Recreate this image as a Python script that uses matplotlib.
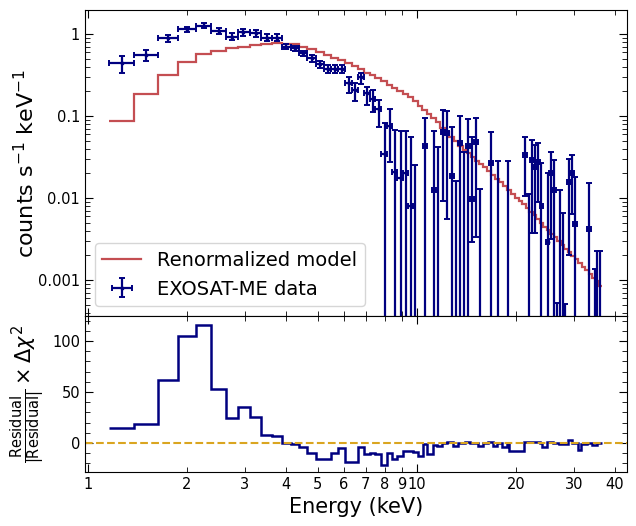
import numpy as np
import matplotlib
matplotlib.use("Agg")
import matplotlib.pyplot as plt
from matplotlib.ticker import FixedLocator, FixedFormatter, MultipleLocator, LogLocator, NullFormatter

# ---- model (renormalized), step per energy bin ----
model_edges = [1.158, 1.380, 1.632, 1.878, 2.130, 2.365, 2.627, 2.857, 3.108, 3.357,
               3.625, 3.888, 4.140, 4.377, 4.631, 4.932, 5.216, 5.479, 5.754, 6.042,
               6.345, 6.618, 6.901, 7.196, 7.452, 7.772, 8.105, 8.395, 8.694, 9.066,
               9.389, 9.723, 10.07, 10.39, 10.72, 11.07, 11.42, 11.79, 12.17, 12.56,
               12.96, 13.37, 13.80, 14.19, 14.59, 15.01, 15.43, 15.87, 16.32, 16.79,
               17.26, 17.75, 18.26, 18.77, 19.31, 19.86, 20.42, 20.93, 21.45, 21.98,
               22.52, 23.08, 23.65, 24.24, 24.84, 25.46, 26.09, 26.73, 27.40, 28.07,
               28.77, 29.49, 30.22, 30.97, 31.73, 32.52, 33.33, 34.15, 35.00, 35.74,
               36.50]
model_flux = [0.087, 0.187, 0.316, 0.459, 0.570, 0.626, 0.669, 0.700, 0.734, 0.762,
              0.783, 0.766, 0.745, 0.704, 0.656, 0.603, 0.554, 0.517, 0.482, 0.443,
              0.407, 0.374, 0.339, 0.312, 0.287, 0.264, 0.239, 0.220, 0.202, 0.186,
              0.171, 0.152, 0.134, 0.120, 0.106, 0.0946, 0.0834, 0.0724, 0.0630, 0.0555,
              0.0495, 0.0437, 0.0390, 0.0354, 0.0316, 0.0286, 0.0260, 0.0236, 0.0213, 0.0191,
              0.0173, 0.0157, 0.0140, 0.0127, 0.01135, 0.01014, 0.00918, 0.00834, 0.00755, 0.00684,
              0.00621, 0.00555, 0.00502, 0.00449, 0.00407, 0.00369, 0.00334, 0.00299, 0.00267, 0.00242,
              0.00219, 0.00199, 0.00180, 0.00161, 0.00146, 0.00132, 0.00118, 0.00106, 0.00096, 0.000857]

# ---- EXOSAT-ME data (nan = below plotted range) ----
e_mid = [1.268, 1.501, 1.754, 2.004, 2.252, 2.507, 2.746, 2.965, 3.241, 3.493,
         3.747, 3.998, 4.257, 4.519, 4.796, 5.089, 5.364, 5.634, 5.903, 6.213,
         6.503, 6.772, 7.063, 7.366, 7.665, 7.993, 8.276, 8.573, 8.922, 9.241,
         9.589, 9.895, 10.58, 11.29, 11.61, 11.99, 12.36, 12.80, 13.14, 13.51,
         13.92, 14.29, 14.70, 15.11, 15.54, 16.79, 17.66, 18.95, 21.37, 21.90,
         22.41, 22.84, 23.37, 23.93, 24.96, 25.49, 26.15, 26.59, 27.21, 27.85,
         28.31, 29.04, 29.65, 30.22, 33.33, 34.75, 35.41, 35.99]
e_lo = [1.158, 1.380, 1.632, 1.878, 2.130, 2.365, 2.627, 2.857, 3.108, 3.357,
        3.625, 3.888, 4.140, 4.377, 4.631, 4.932, 5.216, 5.479, 5.754, 6.042,
        6.345, 6.618, 6.901, 7.196, 7.452, 7.772, 8.105, 8.395, 8.694, 9.066,
        9.389, 9.723, 10.42, 11.12, 11.44, 11.82, 12.19, 12.62, 12.96, 13.32,
        13.73, 14.09, 14.50, 14.90, 15.32, 16.55, 17.41, 18.68, 21.07, 21.60,
        22.10, 22.53, 23.05, 23.60, 24.62, 25.14, 25.79, 26.23, 26.84, 27.47,
        27.92, 28.64, 29.24, 29.80, 32.87, 34.27, 34.92, 35.49]
e_hi = [1.380, 1.632, 1.878, 2.130, 2.365, 2.627, 2.857, 3.108, 3.357, 3.625,
        3.888, 4.140, 4.377, 4.631, 4.932, 5.216, 5.479, 5.754, 6.042, 6.345,
        6.618, 6.901, 7.196, 7.452, 7.772, 8.105, 8.395, 8.694, 9.066, 9.389,
        9.723, 10.07, 10.74, 11.46, 11.78, 12.16, 12.53, 12.98, 13.32, 13.70,
        14.11, 14.49, 14.90, 15.32, 15.76, 17.03, 17.91, 19.22, 21.67, 22.20,
        22.72, 23.15, 23.69, 24.26, 25.30, 25.84, 26.51, 26.95, 27.58, 28.23,
        28.70, 29.44, 30.06, 30.64, 33.79, 35.23, 35.90, 36.49]
nan = np.nan
flux = [0.439, 0.550, 0.886, 1.141, 1.262, 1.088, 0.927, 1.049, 1.020, 0.901,
        0.901, 0.700, 0.669, 0.582, 0.505, 0.427, 0.374, 0.374, 0.374, 0.251,
        0.209, 0.295, 0.189, 0.160, 0.121, 0.0341, 0.0762, 0.0206, 0.0174, 0.0200,
        0.00805, nan, 0.0431, 0.01253, nan, 0.0638, 0.0615, 0.01854, nan, 0.0472,
        nan, 0.0431, 0.00972, 0.0478, nan, 0.02694, nan, nan, 0.0335, nan,
        0.0291, 0.0241, 0.0277, 0.00799, 0.00288, 0.0200, 0.01253, nan, nan, nan,
        nan, 0.0158, 0.0200, 0.00478, 0.00415, nan, nan, nan]
flux_low = [0.337, 0.465, 0.806, 1.049, 1.174, 0.992, 0.845, 0.953, 0.927, 0.821,
            0.821, 0.653, 0.624, 0.535, 0.462, 0.388, 0.332, 0.332, 0.332, 0.189,
            0.154, 0.246, 0.136, 0.113, 0.074, nan, 0.0277, nan, nan, nan,
            nan, nan, nan, nan, nan, 0.00919, 0.0055, nan, nan, nan,
            nan, nan, 0.0029, 0.00337, nan, nan, nan, nan, 0.01057, nan,
            0.00374, 0.00374, 0.00901, nan, nan, 0.00313, nan, nan, nan, nan,
            nan, 0.00202, 0.00638, nan, nan, nan, nan, nan]
flux_high = [0.539, 0.638, 0.972, 1.227, 1.362, 1.193, 1.020, 1.141, 1.119, 0.992,
             0.992, 0.751, 0.718, 0.629, 0.550, 0.472, 0.418, 0.418, 0.418, 0.297,
             0.251, 0.337, 0.228, 0.207, 0.157, 0.0815, 0.121, 0.0675, 0.0656, 0.0656,
             0.0560, 0.0253, 0.0937, 0.0656, 0.0422, 0.1184, 0.115, 0.0728, 0.01626, 0.100,
             0.0364, 0.0912, 0.0560, 0.0937, 0.01277, 0.0643, 0.0285, 0.0285, 0.0560, 0.0111,
             0.0503, 0.0443, 0.0472, 0.0269, 0.0200, 0.0367, 0.0291, 0.000528, 0.01253, 0.00662,
             0.000506, 0.0299, 0.0335, 0.0179, 0.01537, 0.00135, 0.00228, 0.00228]

# ---- residual x delta chi^2 ----
res_edges = [1.158, 1.380, 1.632, 1.878, 2.130, 2.365, 2.627, 2.857, 3.108, 3.357,
             3.625, 3.888, 4.140, 4.377, 4.631, 4.932, 5.216, 5.479, 5.754, 6.042,
             6.345, 6.618, 6.901, 7.196, 7.452, 7.772, 8.105, 8.395, 8.694, 9.066,
             9.389, 9.723, 10.07, 10.43, 10.72, 11.19, 11.50, 11.91, 12.34, 12.87,
             13.33, 13.99, 14.49, 15.32, 15.87, 16.44, 17.02, 17.51, 18.13, 18.77,
             19.04, 21.14, 22.05, 23.65, 23.99, 24.84, 25.91, 27.02, 28.77, 29.59,
             30.86, 31.51, 32.86, 34.03, 35.25, 36.50]
res_vals = [14.4, 18.6, 61.8, 105, 116, 53, 24.8, 35.6, 25.8, 8.2,
            7.2, -0.3, -0.8, -4.2, -9.5, -15.4, -15.4, -9.5, -5.2, -18.3,
            -18.3, -3.6, -10.8, -9.5, -10.8, -21.6, -10, -15.7, -12.4, -7.8,
            -7.5, -9.1, -12.4, -1, -10.8, -2, -2.6, -0.3, 0.7, -2.6,
            -0.3, 0.7, -0.3, -2.6, -0.3, 0.7, -2.6, -0.3, -3.6, -0.3,
            -7.5, 1.3, 1.3, 0, -3.6, 1.3, -0.3, -1, 2.6, -0.3,
            -7, -1, -0.3, -2, -0.3]

x_ticks = [1, 2, 3, 4, 5, 6, 7, 8, 9, 10, 20, 30, 40]

navy = "#000080"
red = "#c44e52"

fig = plt.figure(figsize=(6.36, 5.26), dpi=100)
ax1 = fig.add_axes([0.1336, 0.3992, 0.852, 0.5817])
ax2 = fig.add_axes([0.1336, 0.1027, 0.852, 0.2966], sharex=ax1)

# values below the plotted range get a floor so their bars run off the bottom
floor = 1e-6
y = np.array(flux)
y_plot = np.where(np.isnan(y), floor, y)
lo = np.where(np.isnan(flux_low), floor, flux_low)
hi = np.array(flux_high)
xm = np.array(e_mid)

ax1.stairs(model_flux, model_edges, baseline=None, color=red, lw=1.6,
           label="Renormalized model")
ax1.errorbar(xm, y_plot, xerr=[xm - np.array(e_lo), np.array(e_hi) - xm],
             yerr=[y_plot - lo, hi - y_plot], fmt=".", color=navy, ms=3.5,
             elinewidth=1.6, capsize=2, capthick=1.4, label="EXOSAT-ME data")

ax1.set_xscale("log")
ax1.set_yscale("log")
ax1.set_xlim(0.979, 43.5)
ax1.set_ylim(3.64e-4, 1.96)
ax1.set_ylabel(r"counts s$^{-1}$ keV$^{-1}$", fontsize=16, labelpad=0)
ax1.set_yticks([1e-3, 1e-2, 1e-1, 1])
ax1.set_yticklabels(["0.001", "0.01", "0.1", "1"])
ax1.yaxis.set_minor_locator(LogLocator(base=10, subs=np.arange(2, 10)))
ax1.yaxis.set_minor_formatter(NullFormatter())
ax1.legend(loc="lower left", fontsize=14)

ax2.stairs(res_vals, res_edges, baseline=None, color=navy, lw=1.8)
ax2.axhline(0, color="goldenrod", ls="--", lw=1.5)
ax2.set_ylim(-28.4, 124.5)
ax2.yaxis.set_major_locator(FixedLocator([0, 50, 100]))
ax2.yaxis.set_minor_locator(MultipleLocator(10))
ax2.set_xlabel("Energy (keV)", fontsize=15)
ax2.set_ylabel(r"$\frac{\mathrm{Residual}}{|\mathrm{Residual}|}\times\Delta\chi^2$", fontsize=15)

for ax in (ax1, ax2):
    ax.xaxis.set_major_locator(FixedLocator([1, 10]))
    ax.xaxis.set_minor_locator(FixedLocator([t for t in x_ticks if t not in (1, 10)]))
    ax.tick_params(which="both", direction="in", top=True, right=True, labelsize=10.5)
    ax.tick_params(which="major", length=6)
    ax.tick_params(which="minor", length=3.5)

ax2.xaxis.set_major_formatter(FixedFormatter(["1", "10"]))
ax2.xaxis.set_minor_formatter(FixedFormatter([str(t) for t in x_ticks if t not in (1, 10)]))
ax1.tick_params(axis="x", which="both", labelbottom=False)

fig.savefig("out.png", dpi=100)
